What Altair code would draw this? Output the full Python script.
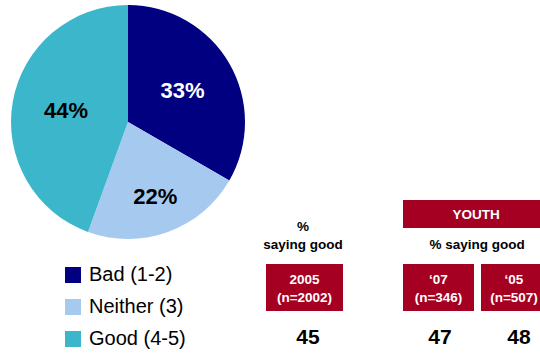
import altair as alt
import pandas as pd

# ---- data ----
categories = ["Bad (1-2)", "Neither (3)", "Good (4-5)"]
shares = [33, 22, 44]
share_labels = ["33%", "22%", "44%"]
colors = ["#000080", "#A6CAEF", "#3CB6CA"]

group_headers = ["2005\n(n=2002)", "\u201807\n(n=346)", "\u201805\n(n=507)"]
pct_good = [45, 47, 48]

# ---- layout (positions / styles, not data) ----
FONT = "Liberation Sans"
RED = "#A50021"
CX, CY, R = 128, 122, 117
label_radius = [63, 80, 63]
label_color = ["white", "black", "black"]
head_x = [304.5, 438.5, 514]
num_x = [308, 440, 519]
box_x = [266, 403, 481]
box_x2 = [343, 474, 549]

pie = pd.DataFrame({
    "category": categories,
    "value": shares,
    "label": share_labels,
    "order": list(range(len(categories))),
    "r": label_radius,
    "tc": label_color,
})

color_scale = alt.Scale(domain=categories, range=colors)

arcs = alt.Chart(pie).mark_arc(outerRadius=R, stroke=None).encode(
    theta=alt.Theta("value:Q", stack=True),
    order=alt.Order("order:Q"),
    color=alt.Color("category:N", scale=color_scale, legend=alt.Legend(
        orient="none", legendX=63, legendY=265, title=None,
        symbolType="square", symbolSize=256, symbolStrokeWidth=0,
        labelFontSize=20, labelFont=FONT, labelColor="black",
        rowPadding=12, labelOffset=6, padding=0,
    )),
    x=alt.value(CX), y=alt.value(CY),
)

arc_labels = alt.Chart(pie).transform_window(
    cum="sum(value)", sort=[alt.SortField("order", order="ascending")],
    frame=[None, 0],
).transform_calculate(
    mid="datum.cum - datum.value / 2"
).mark_text(
    font=FONT, fontSize=22, fontWeight="bold", align="center", baseline="middle"
).encode(
    theta=alt.Theta("mid:Q", stack=None),
    radius=alt.Radius("r:Q", scale=None),
    text="label:N",
    fill=alt.Fill("tc:N", scale=None),
    x=alt.value(CX), y=alt.value(CY),
)

# boxes
boxes = pd.DataFrame({
    "x": box_x + [403],
    "x2": box_x2 + [549],
    "y": [264, 264, 264, 200],
    "y2": [311, 311, 311, 228],
})
box_layer = alt.Chart(boxes).mark_rect(color=RED).encode(
    x=alt.X("x:Q", scale=None), x2="x2:Q",
    y=alt.Y("y:Q", scale=None), y2="y2:Q",
)

cols = pd.DataFrame({
    "header": group_headers,
    "value": pct_good,
    "hx": head_x,
    "nx": num_x,
})
header_text = alt.Chart(cols).mark_text(
    font=FONT, fontSize=13.5, fontWeight="bold", color="white",
    lineBreak="\n", lineHeight=17.5, align="center", baseline="middle"
).encode(
    x=alt.X("hx:Q", scale=None), y=alt.value(280), text="header:N",
)
value_text = alt.Chart(cols).mark_text(
    font=FONT, fontSize=21, fontWeight="bold", color="black",
    align="center", baseline="middle"
).encode(
    x=alt.X("nx:Q", scale=None), y=alt.value(338), text="value:Q",
)

notes = pd.DataFrame({
    "t": ["%\nsaying good", "% saying good"],
    "x": [303, 477],
    "y": [227, 245],
})
note_text = alt.Chart(notes).mark_text(
    font=FONT, fontSize=13.5, fontWeight="bold", color="black",
    lineBreak="\n", lineHeight=18, align="center", baseline="middle"
).encode(
    x=alt.X("x:Q", scale=None), y=alt.Y("y:Q", scale=None), text="t:N",
)
youth = pd.DataFrame({"t": ["YOUTH"], "x": [476], "y": [214.5]})
youth_text = alt.Chart(youth).mark_text(
    font=FONT, fontSize=13.5, fontWeight="bold", color="white",
    align="center", baseline="middle"
).encode(
    x=alt.X("x:Q", scale=None), y=alt.Y("y:Q", scale=None), text="t:N",
)

chart = alt.layer(
    arcs, arc_labels, box_layer, header_text, value_text, note_text, youth_text
).properties(
    width=540, height=358, padding=0, autosize="none", background="white"
).configure_view(stroke=None)

chart.save("out.html", embed_options={"renderer": "svg", "actions": False})
